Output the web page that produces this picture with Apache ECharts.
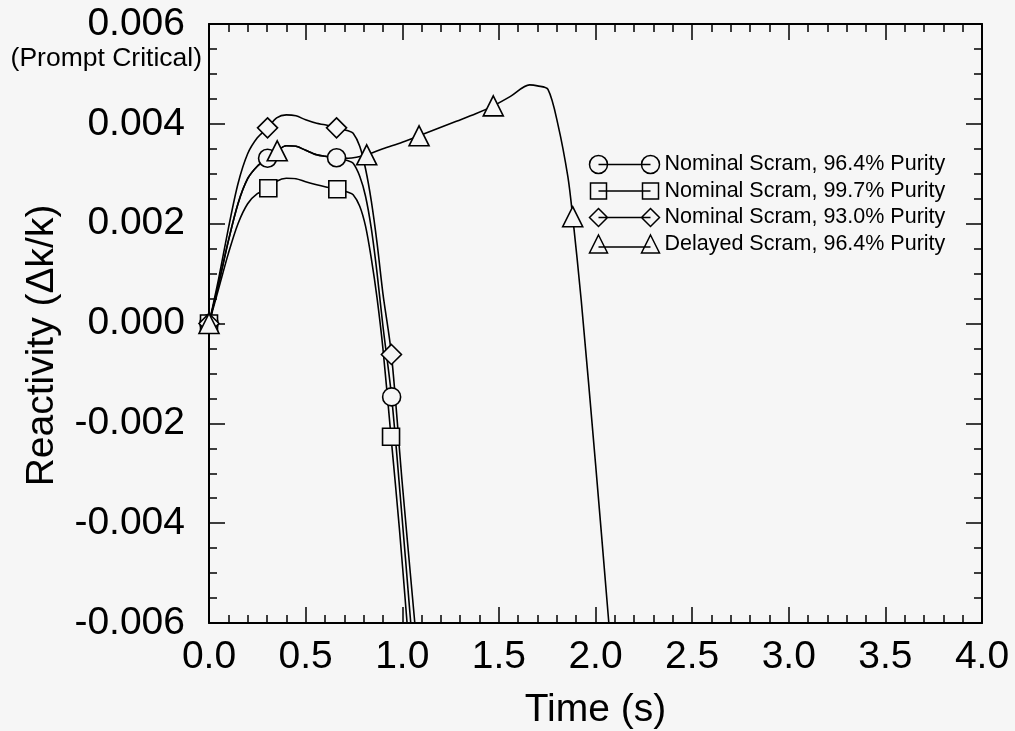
<!DOCTYPE html>
<html>
<head>
<meta charset="utf-8">
<title>Reactivity vs Time</title>
<script src="https://cdn.jsdelivr.net/npm/echarts@6/dist/echarts.min.js"></script>
<style>
  html, body { margin: 0; padding: 0; background: #f6f6f6; }
  #chart { width: 1015px; height: 731px; }
</style>
</head>
<body>
<div id="chart"></div>
<script>
// Time axis ticks and reactivity ticks
const timeTicks = [0, 0.5, 1.0, 1.5, 2.0, 2.5, 3.0, 3.5, 4.0];
const reactTicks = [-0.006, -0.004, -0.002, 0.000, 0.002, 0.004, 0.006];

// Nominal scram, 96.4% purity
const tNom964 = [0, 0.05, 0.10, 0.15, 0.20, 0.25, 0.303, 0.353, 0.40, 0.45, 0.50, 0.557, 0.60, 0.66, 0.72, 0.746, 0.78, 0.81, 0.84, 0.87, 0.90, 0.945, 0.995, 1.044];
const rNom964 = [0, 0.0008, 0.00165, 0.0024, 0.0029, 0.00315, 0.00331, 0.00346, 0.00356, 0.00355, 0.00347, 0.00338, 0.00335, 0.00332, 0.00326, 0.00321, 0.00295, 0.00255, 0.0019, 0.0010, -0.00005, -0.00147, -0.0037, -0.006];
const mNom964 = [0, 6, 13, 21];

// Nominal scram, 99.7% purity
const tNom997 = [0, 0.05, 0.10, 0.15, 0.20, 0.25, 0.307, 0.35, 0.40, 0.45, 0.50, 0.557, 0.60, 0.664, 0.72, 0.746, 0.78, 0.81, 0.84, 0.87, 0.90, 0.942, 0.985, 1.025];
const rNom997 = [0, 0.0007, 0.0014, 0.0020, 0.0024, 0.0026, 0.00271, 0.00285, 0.00291, 0.0029, 0.00284, 0.00278, 0.00274, 0.00269, 0.00263, 0.00258, 0.00235, 0.00195, 0.0013, 0.0005, -0.0005, -0.00227, -0.0041, -0.006];
const mNom997 = [0, 6, 13, 21];

// Nominal scram, 93.0% purity
const tNom930 = [0, 0.05, 0.10, 0.15, 0.20, 0.25, 0.303, 0.35, 0.40, 0.45, 0.50, 0.557, 0.60, 0.66, 0.72, 0.746, 0.78, 0.81, 0.84, 0.87, 0.90, 0.944, 1.00, 1.065];
const rNom930 = [0, 0.0009, 0.0019, 0.0028, 0.0034, 0.00372, 0.00392, 0.00412, 0.00418, 0.00416, 0.00408, 0.00401, 0.00398, 0.00392, 0.00386, 0.00381, 0.00355, 0.0031, 0.00245, 0.0016, 0.0006, -0.00062, -0.0032, -0.006];
const mNom930 = [0, 6, 13, 21];

// Delayed scram, 96.4% purity
const tDel964 = [0, 0.05, 0.10, 0.15, 0.20, 0.25, 0.303, 0.353, 0.40, 0.45, 0.50, 0.557, 0.60, 0.66, 0.72, 0.763, 0.816, 0.90, 1.0, 1.087, 1.18, 1.28, 1.38, 1.471, 1.56, 1.659, 1.70, 1.754, 1.806, 1.857, 1.882, 1.926, 2.0, 2.069];
const rDel964 = [0, 0.0008, 0.00165, 0.0024, 0.0029, 0.00315, 0.00331, 0.00346, 0.00356, 0.00355, 0.00347, 0.00338, 0.00335, 0.00332, 0.00331, 0.00333, 0.00338, 0.0035, 0.00363, 0.00376, 0.0039, 0.00405, 0.0042, 0.00436, 0.00455, 0.00478, 0.00476, 0.00469, 0.00398, 0.00294, 0.00214, 0.00047, -0.0028, -0.006];
const mDel964 = [0, 7, 16, 19, 23, 30];

const seriesNames = [
  'Nominal Scram, 96.4% Purity',
  'Nominal Scram, 99.7% Purity',
  'Nominal Scram, 93.0% Purity',
  'Delayed Scram, 96.4% Purity'
];

const BG = '#f6f6f6';
const INK = '#000';
const FONT = '"Liberation Sans", Arial, Helvetica, sans-serif';

// Legend glyphs: symbol, connecting line, symbol
const legendIcons = [
  'path://M9,0A9,9,0,1,1,9,18A9,9,0,1,1,9,0ZM9,9L61,9M61,0A9,9,0,1,1,61,18A9,9,0,1,1,61,0Z',
  'path://M1,1L17,1L17,17L1,17ZM9,9L61,9M53,1L69,1L69,17L53,17ZM0,0M70,18',
  'path://M9,0L18,9L9,18L0,9ZM9,9L61,9M61,0L70,9L61,18L52,9Z',
  'path://M9,0L18,18L0,18ZM9,12L61,12M61,0L70,18L52,18Z'
];

function buildData(ts, rs, marks, symbol, size) {
  return ts.map((t, i) => {
    const item = { value: [t, rs[i]] };
    if (marks.indexOf(i) >= 0) {
      item.symbol = symbol;
      item.symbolSize = size;
    }
    return item;
  });
}

function lineSeries(name, data) {
  return {
    name: name,
    type: 'line',
    data: data,
    symbol: 'none',
    showAllSymbol: true,
    smooth: 0.3,
    clip: true,
    lineStyle: { color: INK, width: 1.6 },
    itemStyle: { color: BG, borderColor: INK, borderWidth: 1.6 },
    emphasis: { disabled: true },
    z: 3
  };
}

const chart = echarts.init(document.getElementById('chart'), null, { renderer: 'canvas' });

const axisCommon = {
  type: 'value',
  axisLine: { show: true, onZero: false, lineStyle: { color: INK, width: 2 } },
  axisTick: { show: true, inside: true, length: 16, lineStyle: { color: INK, width: 1.5 } },
  minorTick: { show: true, length: 8, lineStyle: { color: INK, width: 1.5 } },
  splitLine: { show: false },
  minorSplitLine: { show: false }
};

chart.setOption({
  backgroundColor: BG,
  animation: false,
  textStyle: { fontFamily: FONT, color: INK },
  grid: { left: 209, right: 33, top: 24, bottom: 108, containLabel: false, outerBoundsMode: 'none' },
  legend: {
    orient: 'vertical',
    left: 587,
    top: 153,
    padding: 0,
    itemWidth: 70,
    itemHeight: 18,
    itemGap: 3.5,
    selectedMode: false,
    textStyle: { fontSize: 21.5, color: INK, fontFamily: FONT },
    itemStyle: { color: 'none', borderColor: INK, borderWidth: 1.5 },
    data: seriesNames.map((n, i) => ({ name: n, icon: legendIcons[i] }))
  },
  xAxis: [
    Object.assign({}, axisCommon, {
      min: timeTicks[0],
      max: timeTicks[timeTicks.length - 1],
      interval: timeTicks[1] - timeTicks[0],
      minorTick: Object.assign({}, axisCommon.minorTick, { splitNumber: 5 }),
      name: 'Time (s)',
      nameLocation: 'middle',
      nameGap: 68,
      nameTextStyle: { fontSize: 39, color: INK, fontFamily: FONT },
      axisLabel: {
        fontSize: 39, color: INK, fontFamily: FONT, margin: 15,
        formatter: v => v.toFixed(1)
      }
    }),
    Object.assign({}, axisCommon, {
      position: 'top',
      min: timeTicks[0],
      max: timeTicks[timeTicks.length - 1],
      interval: timeTicks[1] - timeTicks[0],
      minorTick: Object.assign({}, axisCommon.minorTick, { splitNumber: 5 }),
      axisLabel: { show: false }
    })
  ],
  yAxis: [
    Object.assign({}, axisCommon, {
      min: reactTicks[0],
      max: reactTicks[reactTicks.length - 1],
      interval: reactTicks[1] - reactTicks[0],
      minorTick: Object.assign({}, axisCommon.minorTick, { splitNumber: 4 }),
      name: 'Reactivity (\u0394k/k)',
      nameLocation: 'middle',
      nameGap: 147,
      nameRotate: 90,
      nameTextStyle: { fontSize: 39, color: INK, fontFamily: FONT, padding: [0, 44, 0, 0] },
      axisLabel: {
        fontSize: 39, color: INK, fontFamily: FONT, margin: 24,
        formatter: v => (Math.abs(v) < 1e-9 ? 0 : v).toFixed(3)
      }
    }),
    Object.assign({}, axisCommon, {
      position: 'right',
      min: reactTicks[0],
      max: reactTicks[reactTicks.length - 1],
      interval: reactTicks[1] - reactTicks[0],
      minorTick: Object.assign({}, axisCommon.minorTick, { splitNumber: 4 }),
      axisLabel: { show: false }
    })
  ],
  graphic: [
    {
      type: 'text',
      right: 1015 - 202,
      top: 45,
      style: { text: '(Prompt Critical)', font: '26.5px ' + FONT, fill: INK }
    }
  ],
  series: [
    lineSeries(seriesNames[0], buildData(tNom964, rNom964, mNom964, 'circle', 18)),
    lineSeries(seriesNames[1], buildData(tNom997, rNom997, mNom997, 'rect', 17)),
    lineSeries(seriesNames[2], buildData(tNom930, rNom930, mNom930, 'diamond', 20)),
    lineSeries(seriesNames[3], buildData(tDel964, rDel964, mDel964, 'triangle', 20))
  ]
});
</script>
</body>
</html>
